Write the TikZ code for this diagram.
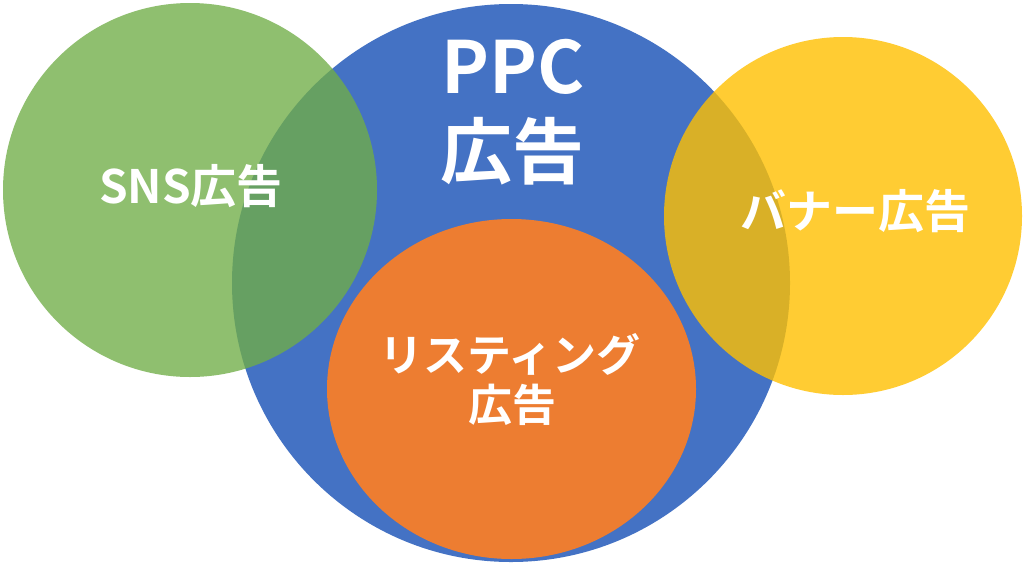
\documentclass[tikz,border=0pt]{standalone}
\usepackage{fontspec}
\setmainfont{Noto Sans CJK JP}[BoldFont={* Bold}]
\usetikzlibrary{shapes.geometric}
\definecolor{cblue}{HTML}{4472C4}
\definecolor{corange}{HTML}{ED7D31}
\definecolor{cgreen}{HTML}{70AD47}
\definecolor{cyellow}{HTML}{FFC000}
\tikzset{
  blob/.style={circle, inner sep=0pt, draw=none},
  lbl/.style={text=white, font=\bfseries, inner sep=0pt, anchor=base},
}
\begin{document}
\begin{tikzpicture}[x=1pt,y=-1pt]
\fill[white] (0,0) rectangle (1024,576);
\useasboundingbox (0,0) rectangle (1024,576);
\node[blob, fill=cblue, minimum size=558pt] (ppc) at (511,283) {};
\node[ellipse, inner sep=0pt, fill=corange, minimum width=369pt, minimum height=340pt] (lst) at (511.5,389) {};
\node[blob, fill=cgreen, fill opacity=0.78, minimum size=374pt] (sns) at (190,190) {};
\node[blob, fill=cyellow, fill opacity=0.8, minimum size=358pt] (ban) at (843,216) {};
\node[lbl, font=\bfseries\fontsize{72}{80}\selectfont] (t1) at (513,93) {PPC};
\node[lbl, font=\bfseries\fontsize{72}{80}\selectfont] (t2) at (512,178) {広告};
\node[lbl, font=\bfseries\fontsize{46}{52}\selectfont] (t3) at (191,203) {SNS広告};
\node[lbl, font=\bfseries\fontsize{46}{52}\selectfont] (t4) at (855,228) {バナー広告};
\node[lbl, font=\bfseries\fontsize{44}{50}\selectfont] (t5) at (510,371) {リスティング};
\node[lbl, font=\bfseries\fontsize{44}{50}\selectfont] (t6) at (512,421) {広告};
\end{tikzpicture}
\end{document}
